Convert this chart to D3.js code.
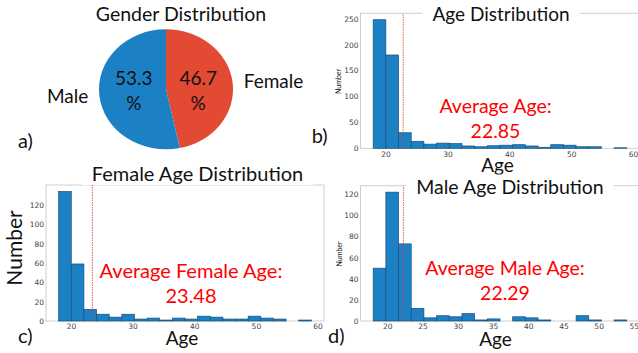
<!DOCTYPE html>
<html>
<head>
<meta charset="utf-8">
<script src="https://cdn.jsdelivr.net/npm/d3@7"></script>
<style>
  body { margin: 0; background: #fff; }
  svg { display: block; }
  text { font-family: Lato, "Open Sans", sans-serif; }
  .tick text { font-family: "DejaVu Sans", sans-serif; fill: #444; }
</style>
</head>
<body>
<script>
// gender split (percent)
const genderLabels = ["Female", "Male"];
const genderShares = [46.7, 53.3];

// histogram counts, 20 equal bins each
const allCounts    = [248, 180, 30, 13.5, 8, 10, 9, 4.5, 3, 5, 6, 7, 4.5, 2, 7, 6, 3, 3, 0, 1];
const allRange     = [18, 59];
const femaleCounts = [134, 59, 12, 7, 4, 7, 2, 3, 1, 3, 2, 5, 4, 2, 2, 5, 3, 2, 0, 1];
const femaleRange  = [18, 59];
const maleCounts   = [50, 122, 73, 12, 3, 5, 4, 7, 1, 2, 0, 4, 3, 1, 0, 0, 5, 1, 0, 1];
const maleRange    = [18, 54];

const meanAll = 22.85, meanFemale = 23.48, meanMale = 22.29;

const ticksAllX  = [20, 30, 40, 50, 60];
const ticksAllY  = [0, 50, 100, 150, 200, 250];
const ticksFemY  = [0, 20, 40, 60, 80, 100, 120];
const ticksMaleX = [20, 25, 30, 35, 40, 45, 50, 55];
const ticksMaleY = [0, 20, 40, 60, 80, 100, 120];

const W = 638, H = 353;
const BLUE = "#1b81c4", RED = "#e24a33";

const svg = d3.select("body").append("svg")
  .attr("width", W).attr("height", H);

// ---- pie (a) ----
const pieG = svg.append("g").attr("transform", "translate(166,89.3) scale(1.117,1)");
const pie = d3.pie().sort(null).value(d => d);
const arcs = pie(genderShares);
const arc = d3.arc().innerRadius(0).outerRadius(60);
const inner = d3.arc().innerRadius(29).outerRadius(29);
const outer = d3.arc().innerRadius(70).outerRadius(70);
const pieColor = [RED, BLUE];

pieG.selectAll("path").data(arcs).enter().append("path")
  .attr("d", arc)
  .attr("fill", (d, i) => pieColor[i]);

arcs.forEach(function(a, i) {
  const c = inner.centroid(a);
  const px = 166 + c[0] * 1.117;
  const t = svg.append("text").attr("text-anchor", "middle")
    .attr("font-size", 19).attr("fill", "#111");
  t.append("tspan").attr("x", px).attr("y", 85).text(genderShares[i].toFixed(1));
  t.append("tspan").attr("x", px).attr("y", 110).text("%");

  const o = outer.centroid(a);
  svg.append("text")
    .attr("x", 166 + o[0] * 1.117)
    .attr("y", 89.3 + o[1] + 6)
    .attr("text-anchor", o[0] < 0 ? "end" : "start")
    .attr("font-size", 19).attr("fill", "#111")
    .text(genderLabels[i]);
});

svg.append("text").attr("x", 181).attr("y", 20.7).attr("text-anchor", "middle")
  .attr("font-size", 19.5).attr("fill", "#111").text("Gender Distribution");

// ---- histograms ----
function histPanel(o) {
  const g = svg.append("g");
  const n = o.counts.length;
  const step = (o.range[1] - o.range[0]) / n;
  const edges = d3.range(n + 1).map(i => o.range[0] + i * step);
  const pad = (o.range[1] - o.range[0]) * 0.05;
  const yMax = d3.max(o.counts) * 1.05;

  const x = d3.scaleLinear().domain([o.range[0] - pad, o.range[1] + pad]).range([o.left, o.right]);
  const y = d3.scaleLinear().domain([0, yMax]).range([o.bottom, o.top]);

  g.append("rect")
    .attr("x", o.left).attr("y", o.top)
    .attr("width", o.right - o.left).attr("height", o.bottom - o.top)
    .attr("fill", "none").attr("stroke", "#cfcfcf").attr("stroke-width", 1);

  g.selectAll(".bar").data(o.counts).enter().append("rect")
    .attr("class", "bar")
    .attr("x", (d, i) => x(edges[i]))
    .attr("width", (d, i) => x(edges[i + 1]) - x(edges[i]))
    .attr("y", d => y(d))
    .attr("height", d => y(0) - y(d))
    .attr("fill", BLUE)
    .attr("stroke", d => d > 0 ? "#1a4f7a" : "none")
    .attr("stroke-width", 0.7);

  g.append("line")
    .attr("x1", x(o.mean)).attr("x2", x(o.mean))
    .attr("y1", y(0)).attr("y2", o.top)
    .attr("stroke", "#e8302a").attr("stroke-width", 0.8)
    .attr("stroke-dasharray", "1.5,1");

  const ax = g.append("g").attr("transform", "translate(0," + o.bottom + ")")
    .call(d3.axisBottom(x).tickValues(o.xTicks).tickSize(0).tickPadding(3));
  ax.select(".domain").remove();
  ax.selectAll("text").attr("font-size", 7.5);

  const ay = g.append("g").attr("transform", "translate(" + o.left + ",0)")
    .call(d3.axisLeft(y).tickValues(o.yTicks).tickSize(0).tickPadding(2));
  ay.select(".domain").remove();
  ay.selectAll("text").attr("font-size", 7.5);

  // title with white backing so it breaks the frame line
  const bg = g.append("rect").attr("fill", "#fff");
  const title = g.append("text").attr("x", o.titleX).attr("y", o.titleY)
    .attr("text-anchor", "middle").attr("font-size", o.titleSize).attr("fill", "#111")
    .text(o.title);
  const bb = title.node().getBBox();
  bg.attr("x", bb.x - 10).attr("y", bb.y).attr("width", bb.width + 20).attr("height", bb.height);

  g.append("text").attr("x", o.xlabX).attr("y", o.xlabY).attr("text-anchor", "middle")
    .attr("font-size", 19).attr("fill", "#111").text("Age");

  g.append("text")
    .attr("transform", "translate(" + o.ylabX + "," + o.ylabY + ") rotate(-90)")
    .attr("text-anchor", "middle").attr("font-size", o.ylabSize).attr("fill", "#111")
    .text("Number");

  const note = g.append("text").attr("text-anchor", "middle")
    .attr("font-size", o.noteSize).attr("fill", "#ff0000");
  note.append("tspan").attr("x", o.noteX).attr("y", o.noteY).text(o.note);
  note.append("tspan").attr("x", o.noteX).attr("y", o.noteY + 25).text(o.mean.toFixed(2));
}

histPanel({
  counts: allCounts, range: allRange, mean: meanAll,
  xTicks: ticksAllX, yTicks: ticksAllY,
  left: 360.5, right: 639.5, top: 13.3, bottom: 148.3,
  title: "Age Distribution", titleX: 501, titleY: 20.7, titleSize: 19,
  xlabX: 497.5, xlabY: 171.7, ylabX: 341, ylabY: 81.5, ylabSize: 7,
  note: "Average Age:", noteX: 495.5, noteY: 113, noteSize: 19.5
});

histPanel({
  counts: femaleCounts, range: femaleRange, mean: meanFemale,
  xTicks: ticksAllX, yTicks: ticksFemY,
  left: 46, right: 324, top: 185, bottom: 321,
  title: "Female Age Distribution", titleX: 197.5, titleY: 181, titleSize: 20,
  xlabX: 182, xlabY: 345, ylabX: 22, ylabY: 248, ylabSize: 21,
  note: "Average Female Age:", noteX: 191, noteY: 278.3, noteSize: 20
});

histPanel({
  counts: maleCounts, range: maleRange, mean: meanMale,
  xTicks: ticksMaleX, yTicks: ticksMaleY,
  left: 360.5, right: 639.5, top: 185.7, bottom: 321,
  title: "Male Age Distribution", titleX: 510, titleY: 193.5, titleSize: 19.5,
  xlabX: 495.5, xlabY: 345.7, ylabX: 342, ylabY: 254, ylabSize: 7,
  note: "Average Male Age:", noteX: 505, noteY: 275.3, noteSize: 19.5
});

// panel letters
const letters = [["a)", 18, 148], ["b)", 311.7, 143], ["c)", 18, 343], ["d)", 328, 343]];
svg.selectAll(".letter").data(letters).enter().append("text")
  .attr("class", "letter")
  .attr("x", d => d[1]).attr("y", d => d[2])
  .attr("font-size", 20).attr("fill", "#111")
  .text(d => d[0]);
</script>
</body>
</html>
